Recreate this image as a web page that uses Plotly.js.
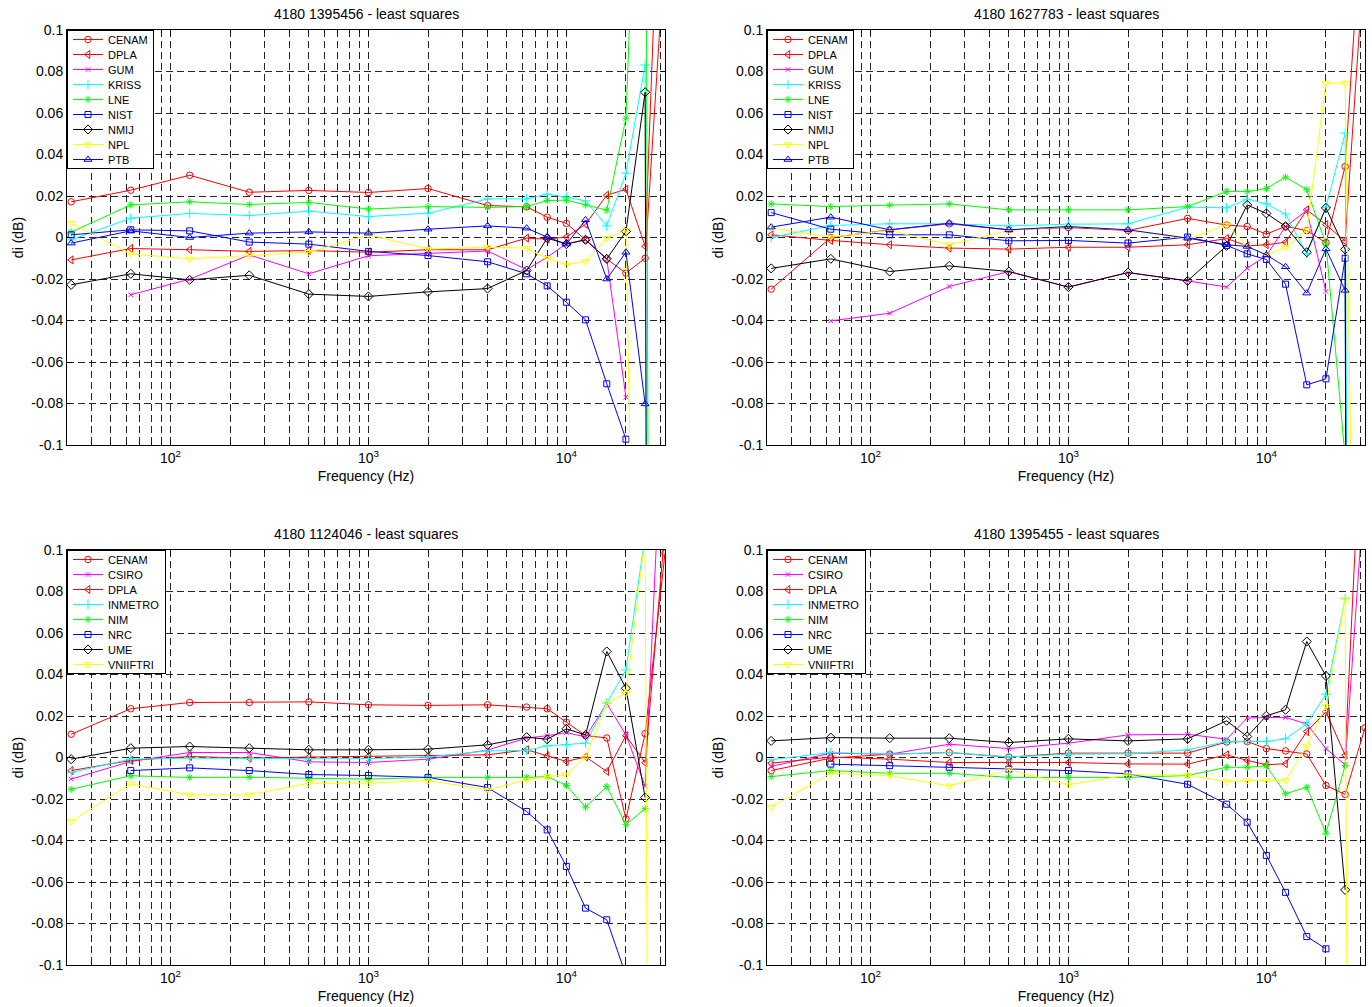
<!DOCTYPE html>
<html>
<head>
<meta charset="utf-8">
<script src="https://cdn.plot.ly/plotly-3.0.1.min.js"></script>
<style>html,body{margin:0;padding:0;background:#fff;}#chart{width:1372px;height:1007px;}</style>
</head>
<body>
<div id="chart"></div>
<script>
// Frequencies (Hz)
const FREQ = [31.5, 63, 125, 250, 500, 1000, 2000, 4000, 6300, 8000, 10000, 12500, 16000, 20000, 25000, 31500];

// ---- Panel 1: 4180 1395456 ----
const P1_TITLE = '4180 1395456 - least squares';
const P1_NAMES = ['CENAM', 'DPLA', 'GUM', 'KRISS', 'LNE', 'NIST', 'NMIJ', 'NPL', 'PTB'];
const P1_CENAM = [0.0172, 0.0228, 0.0300, 0.0218, 0.0227, 0.0217, 0.0236, 0.0154, 0.0148, 0.0098, 0.0068, -0.0011, -0.0104, -0.0172, -0.0100, 0.140];
const P1_DPLA  = [-0.0108, -0.0053, -0.0059, -0.0067, -0.0063, -0.0071, -0.0059, -0.0059, -0.0003, -0.0008, 0.0002, 0.0064, 0.0204, 0.0232, -0.0043, 0.250];
const P1_GUM   = [null, -0.0276, -0.0201, -0.0084, -0.0175, -0.0088, -0.0075, -0.0065, -0.0155, -0.0095, -0.0030, -0.0011, -0.0104, -0.0770, null, null];
const P1_KRISS = [-0.0011, 0.0093, 0.0116, 0.0106, 0.0127, 0.0101, 0.0117, 0.0186, 0.0186, 0.0209, 0.0194, 0.0177, 0.0056, 0.0310, 0.0832, -3.0];
const P1_LNE   = [0.0026, 0.0157, 0.0172, 0.0159, 0.0169, 0.0137, 0.0149, 0.0145, 0.0149, 0.0178, 0.0180, 0.0157, 0.0132, 0.0575, 0.300, -2.5];
const P1_NIST  = [0.0013, 0.0037, 0.0032, -0.0022, -0.0032, -0.0067, -0.0087, -0.0117, -0.0175, -0.0233, -0.0312, -0.0397, -0.0705, -0.0972, null, null];
const P1_NMIJ  = [-0.0228, -0.0175, -0.0204, -0.0182, -0.0273, -0.0284, -0.0262, -0.0246, -0.0159, -0.0003, -0.0032, -0.0011, -0.0103, 0.0029, 0.0700, -3.4];
const P1_NPL   = [0.0069, -0.0079, -0.0103, -0.0087, -0.0071, 0.0013, -0.0056, -0.0047, -0.0051, -0.0100, -0.0132, -0.0116, -0.0003, 0.0034, -0.500, null];
const P1_PTB   = [-0.0027, 0.0032, 0.0000, 0.0021, 0.0027, 0.0021, 0.0040, 0.0056, 0.0045, 0.0002, -0.0032, 0.0085, -0.0200, -0.0071, -0.0802, null];

// ---- Panel 2: 4180 1627783 ----
const P2_TITLE = '4180 1627783 - least squares';
const P2_NAMES = ['CENAM', 'DPLA', 'GUM', 'KRISS', 'LNE', 'NIST', 'NMIJ', 'NPL', 'PTB'];
const P2_CENAM = [-0.0249, 0.0000, 0.0037, 0.0066, 0.0037, 0.0048, 0.0034, 0.0092, 0.0060, 0.0053, 0.0016, 0.0054, 0.0033, -0.0025, 0.0342, 0.180];
const P2_DPLA  = [0.0013, -0.0014, -0.0035, -0.0051, -0.0056, -0.0047, -0.0047, -0.0035, -0.0005, -0.0040, -0.0035, -0.0023, 0.0133, 0.0062, -0.0018, 0.140];
const P2_GUM   = [null, -0.0402, -0.0365, -0.0236, -0.0164, -0.0239, -0.0169, -0.0209, -0.0239, -0.0148, -0.0088, 0.0053, 0.0130, -0.0260, null, null];
const P2_KRISS = [0.0000, 0.0058, 0.0066, 0.0066, 0.0056, 0.0064, 0.0066, 0.0146, 0.0143, 0.0185, 0.0162, 0.0113, -0.0078, 0.0145, 0.0503, -2.0];
const P2_LNE   = [0.0162, 0.0149, 0.0156, 0.0162, 0.0133, 0.0133, 0.0133, 0.0149, 0.0222, 0.0222, 0.0236, 0.0291, 0.0230, -0.0030, -0.106, null];
const P2_NIST  = [0.0120, 0.0040, 0.0013, 0.0013, -0.0016, -0.0014, -0.0027, 0.0002, -0.0038, -0.0079, -0.0106, -0.0225, -0.0710, -0.0681, -0.0100, -3.5];
const P2_NMIJ  = [-0.0149, -0.0103, -0.0164, -0.0137, -0.0164, -0.0239, -0.0169, -0.0209, -0.0040, 0.0157, 0.0116, 0.0054, -0.0071, 0.0143, -0.0057, -3.0];
const P2_NPL   = [0.0047, 0.0002, 0.0034, -0.0035, 0.0034, 0.0053, 0.0037, -0.0008, 0.0061, -0.0042, -0.0084, -0.0047, 0.0035, 0.0744, 0.0744, -0.550];
const P2_PTB   = [0.0050, 0.0098, 0.0037, 0.0069, 0.0037, 0.0053, 0.0037, -0.0003, -0.0035, -0.0043, -0.0084, -0.0141, -0.0268, -0.0055, -0.0255, null];

// ---- Panel 3: 4180 1124046 ----
const P3_TITLE = '4180 1124046 - least squares';
const P3_NAMES = ['CENAM', 'CSIRO', 'DPLA', 'INMETRO', 'NIM', 'NRC', 'UME', 'VNIIFTRI'];
const P3_CENAM    = [0.0112, 0.0235, 0.0265, 0.0265, 0.0268, 0.0254, 0.0251, 0.0254, 0.0243, 0.0235, 0.0170, 0.0106, 0.0094, -0.0296, 0.0115, 0.0985];
const P3_CSIRO    = [-0.0104, -0.0019, 0.0024, 0.0024, -0.0021, -0.0024, -0.0008, 0.0036, 0.0094, 0.0105, 0.0120, 0.0099, 0.0260, 0.0109, -0.0138, 0.193];
const P3_DPLA     = [-0.0063, -0.0014, 0.0005, -0.0003, 0.0002, 0.0005, 0.0008, 0.0013, 0.0037, 0.0008, -0.0019, 0.0003, -0.0067, 0.0105, -0.0025, 0.110];
const P3_INMETRO  = [-0.0072, -0.0008, -0.0003, -0.0006, -0.0006, -0.0005, 0.0002, 0.0032, 0.0034, 0.0056, 0.0061, 0.0069, 0.0262, 0.0422, 0.107, null];
const P3_NIM      = [-0.0153, -0.0088, -0.0096, -0.0095, -0.0100, -0.0104, -0.0096, -0.0096, -0.0096, -0.0092, -0.0135, -0.0239, -0.0140, -0.0324, -0.0247, null];
const P3_NRC      = [null, -0.0063, -0.0050, -0.0063, -0.0082, -0.0087, -0.0096, -0.0145, -0.0260, -0.0349, -0.0525, -0.0726, -0.0782, -0.105, null, null];
const P3_UME      = [-0.0008, 0.0045, 0.0053, 0.0045, 0.0037, 0.0037, 0.0040, 0.0061, 0.0098, 0.0088, 0.0138, 0.0109, 0.0511, 0.0334, -0.0193, null];
const P3_VNIIFTRI = [-0.0308, -0.0127, -0.0180, -0.0180, -0.0124, -0.0124, -0.0111, -0.0156, -0.0108, -0.0092, -0.0084, 0.0002, 0.0262, 0.0310, 0.106, -2.0];

// ---- Panel 4: 4180 1395455 ----
const P4_TITLE = '4180 1395455 - least squares';
const P4_NAMES = ['CENAM', 'CSIRO', 'DPLA', 'INMETRO', 'NIM', 'NRC', 'UME', 'VNIIFTRI'];
const P4_CENAM    = [-0.0063, -0.0003, 0.0016, 0.0024, 0.0002, 0.0021, 0.0021, 0.0021, 0.0075, 0.0077, 0.0043, 0.0032, 0.0017, -0.0135, -0.0178, 0.0143];
const P4_CSIRO    = [-0.0043, 0.0021, 0.0016, 0.0064, 0.0043, 0.0069, 0.0109, 0.0112, 0.0088, 0.0190, 0.0193, 0.0193, 0.0162, 0.0043, -0.0035, 0.134];
const P4_DPLA     = [-0.0027, 0.0002, -0.0008, -0.0024, -0.0024, -0.0024, -0.0031, -0.0032, 0.0013, -0.0014, -0.0035, -0.0030, 0.0125, 0.0220, 0.0011, 0.199];
const P4_INMETRO  = [-0.0011, 0.0024, 0.0016, 0.0024, 0.0002, 0.0016, 0.0018, 0.0037, 0.0077, 0.0077, 0.0077, 0.0090, 0.0162, 0.0305, 0.0765, null];
const P4_NIM      = [-0.0092, -0.0063, -0.0076, -0.0076, -0.0096, -0.0095, -0.0096, -0.0087, -0.0047, -0.0047, -0.0040, -0.0175, -0.0143, -0.0365, -0.0039, null];
const P4_NRC      = [null, -0.0032, -0.0039, -0.0047, -0.0056, -0.0063, -0.0079, -0.0129, -0.0225, -0.0312, -0.0472, -0.0650, -0.0863, -0.0922, null, null];
const P4_UME      = [0.0080, 0.0096, 0.0093, 0.0093, 0.0072, 0.0090, 0.0080, 0.0090, 0.0177, 0.0101, 0.0201, 0.0230, 0.0559, 0.0393, -0.0638, null];
const P4_VNIIFTRI = [-0.0239, -0.0076, -0.0087, -0.0137, -0.0059, -0.0132, -0.0084, -0.0084, -0.0116, -0.0111, -0.0111, -0.0111, 0.0056, 0.0246, 0.0765, -2.05];

// Axis ticks
const Y_TICKS = [-0.1, -0.08, -0.06, -0.04, -0.02, 0, 0.02, 0.04, 0.06, 0.08, 0.1];
const Y_TICKTEXT = ['-0.1', '-0.08', '-0.06', '-0.04', '-0.02', '0', '0.02', '0.04', '0.06', '0.08', '0.1'];
const X_MAJOR_TICKS = [100, 1000, 10000];
const X_MAJOR_TEXT = ['10<sup>2</sup>', '10<sup>3</sup>', '10<sup>4</sup>'];
const X_MINOR_TICKS = [40, 50, 60, 70, 80, 90, 200, 300, 400, 500, 600, 700, 800, 900,
                       2000, 3000, 4000, 5000, 6000, 7000, 8000, 9000, 20000, 30000];

// Styles (MATLAB-like)
const STYLE = {
  CENAM:    {color: '#ff0000', symbol: 'circle-open', size: 6.5},
  DPLA:     {color: '#ff0000', symbol: 'triangle-left-open', size: 7},
  GUM:      {color: '#ff00ff', symbol: 'x-thin-open', size: 4.5},
  CSIRO:    {color: '#ff00ff', symbol: 'x-thin-open', size: 4.5},
  KRISS:    {color: '#00ffff', symbol: 'cross-thin-open', size: 7},
  INMETRO:  {color: '#00ffff', symbol: 'cross-thin-open', size: 7},
  LNE:      {color: '#00ff00', symbol: 'asterisk-open', size: 6},
  NIM:      {color: '#00ff00', symbol: 'asterisk-open', size: 6},
  NIST:     {color: '#0000ff', symbol: 'square-open', size: 6},
  NRC:      {color: '#0000ff', symbol: 'square-open', size: 6},
  NMIJ:     {color: '#000000', symbol: 'diamond-open', size: 7},
  UME:      {color: '#000000', symbol: 'diamond-open', size: 7},
  NPL:      {color: '#ffff00', symbol: 'triangle-down-open', size: 7},
  VNIIFTRI: {color: '#ffff00', symbol: 'triangle-down-open', size: 7},
  PTB:      {color: '#0000ff', symbol: 'triangle-up-open', size: 7}
};

const PANELS = [
  {title: P1_TITLE, names: P1_NAMES, series: [P1_CENAM, P1_DPLA, P1_GUM, P1_KRISS, P1_LNE, P1_NIST, P1_NMIJ, P1_NPL, P1_PTB]},
  {title: P2_TITLE, names: P2_NAMES, series: [P2_CENAM, P2_DPLA, P2_GUM, P2_KRISS, P2_LNE, P2_NIST, P2_NMIJ, P2_NPL, P2_PTB]},
  {title: P3_TITLE, names: P3_NAMES, series: [P3_CENAM, P3_CSIRO, P3_DPLA, P3_INMETRO, P3_NIM, P3_NRC, P3_UME, P3_VNIIFTRI]},
  {title: P4_TITLE, names: P4_NAMES, series: [P4_CENAM, P4_CSIRO, P4_DPLA, P4_INMETRO, P4_NIM, P4_NRC, P4_UME, P4_VNIIFTRI]}
];

const FONT = 'Liberation Sans, Arial, Helvetica, sans-serif';
const W = 1372, H = 1007;
const MARGIN = {l: 67, r: 7, t: 30, b: 42};
const PW = W - MARGIN.l - MARGIN.r, PH = H - MARGIN.t - MARGIN.b;
// subplot boxes in pixels (left, right, top, bottom)
const BOX = [[67, 665, 30, 445], [767, 1365, 30, 445], [67, 665, 550, 965], [767, 1365, 550, 965]];
const px2x = v => (v - MARGIN.l) / PW;
const px2y = v => (H - MARGIN.b - v) / PH;

const GRID = {color: 'rgba(0,0,0,0.85)', width: 1, dash: '7px,4px'};

const traces = [];
const layout = {
  width: W, height: H, margin: MARGIN,
  paper_bgcolor: '#ffffff', plot_bgcolor: '#ffffff',
  font: {family: FONT, size: 14, color: '#000'},
  showlegend: true,
  annotations: []
};

PANELS.forEach((p, i) => {
  const k = i + 1;
  const xa = k === 1 ? 'x' : 'x' + k;
  const ya = k === 1 ? 'y' : 'y' + k;
  const lg = k === 1 ? 'legend' : 'legend' + k;
  p.names.forEach((nm, j) => {
    const s = STYLE[nm];
    traces.push({
      type: 'scatter', mode: 'lines+markers', name: nm,
      x: FREQ, y: p.series[j], xaxis: xa, yaxis: ya, legend: lg,
      connectgaps: false,
      line: {color: s.color, width: 1},
      marker: {symbol: s.symbol, size: s.size, color: s.color, line: {color: s.color, width: 1}},
      hoverinfo: 'x+y+name'
    });
  });
  const b = BOX[i];
  const common = {
    showline: true, linecolor: '#000', linewidth: 1, mirror: 'allticks',
    ticks: 'inside', ticklen: 5, tickcolor: '#000', tickwidth: 1,
    showgrid: true, gridcolor: GRID.color, gridwidth: GRID.width, griddash: GRID.dash,
    zeroline: false, tickfont: {family: FONT, size: 14, color: '#000'}
  };
  layout['xaxis' + (k === 1 ? '' : k)] = Object.assign({}, common, {
    type: 'log', range: [Math.log10(30), Math.log10(31500)],
    domain: [px2x(b[0]), px2x(b[1])], anchor: ya,
    tickmode: 'array', tickvals: X_MAJOR_TICKS, ticktext: X_MAJOR_TEXT,
    minor: {tickmode: 'array', tickvals: X_MINOR_TICKS, ticks: 'inside', ticklen: 3,
            tickcolor: '#000', showgrid: true, gridcolor: GRID.color, gridwidth: GRID.width, griddash: GRID.dash},
    title: {text: 'Frequency (Hz)', font: {family: FONT, size: 14}, standoff: 6}
  });
  layout['yaxis' + (k === 1 ? '' : k)] = Object.assign({}, common, {
    range: [-0.1, 0.1], domain: [px2y(b[3]), px2y(b[2])], anchor: xa,
    tickmode: 'array', tickvals: Y_TICKS, ticktext: Y_TICKTEXT,
    title: {text: 'di (dB)', font: {family: FONT, size: 14}, standoff: 4}
  });
  layout[lg] = {
    x: px2x(b[0]), y: px2y(b[2]), xanchor: 'left', yanchor: 'top',
    bgcolor: '#ffffff', bordercolor: '#000', borderwidth: 1,
    font: {family: FONT, size: 11, color: '#000'}, tracegroupgap: 0
  };
  layout.annotations.push({
    xref: 'paper', yref: 'paper', x: px2x((b[0] + b[1]) / 2), y: px2y(b[2] - 16),
    xanchor: 'center', yanchor: 'middle', showarrow: false,
    text: p.title, font: {family: FONT, size: 14, color: '#000'}
  });
});

function tightenLegends() {
  const sel = 'g.legend, g.legend2, g.legend3, g.legend4';
  document.querySelectorAll(sel).forEach(lg => {
    const items = lg.querySelectorAll('g.traces');
    const step = 15, top = 9.5;
    items.forEach((it, i) => {
      const t = it.getAttribute('transform') || '';
      const m = /translate\(\s*([-\d.e]+)[ ,]+([-\d.e]+)\s*\)/.exec(t);
      const x = m ? m[1] : 0;
      it.setAttribute('transform', 'translate(' + x + ',' + (top + i * step) + ')');
    });
    const bg = lg.querySelector('rect.bg');
    if (bg) bg.setAttribute('height', top + (items.length - 1) * step + 8);
  });
}

Plotly.newPlot('chart', traces, layout, {displayModeBar: false, staticPlot: true}).then(tightenLegends);
</script>
</body>
</html>
